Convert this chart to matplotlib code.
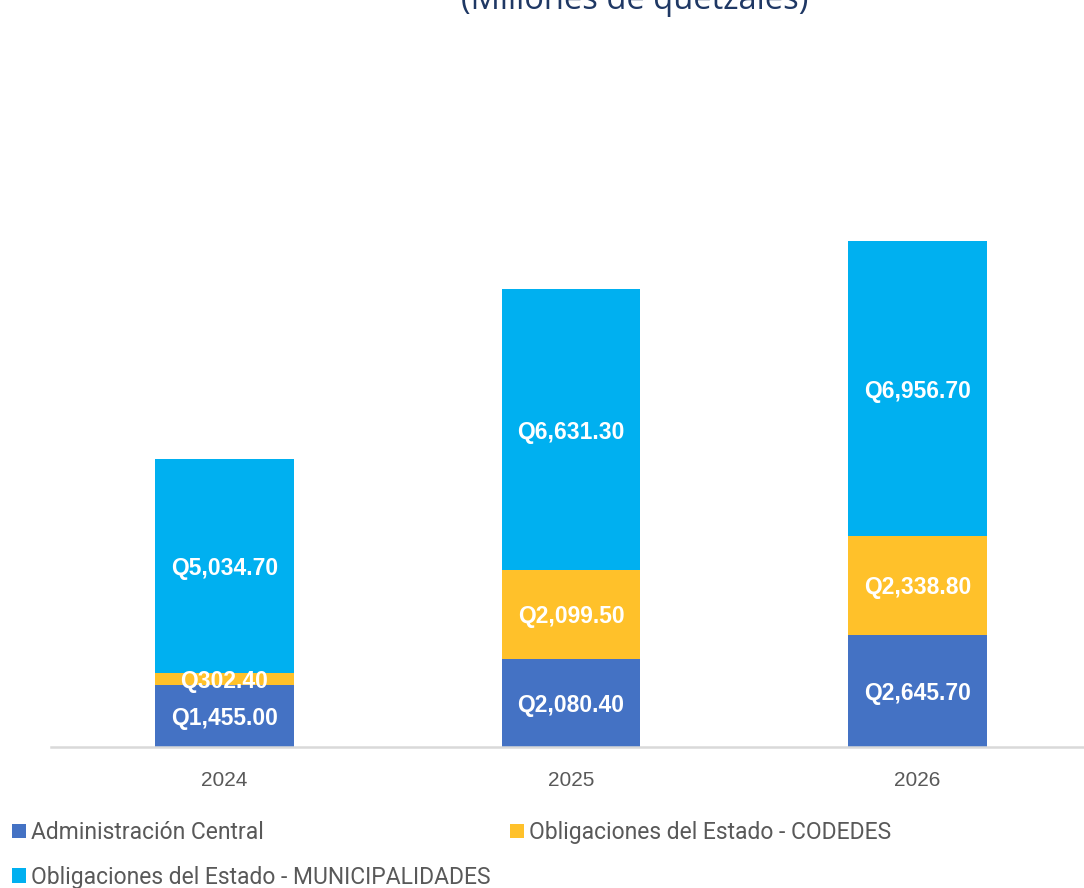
import matplotlib.pyplot as plt
from matplotlib.patches import Patch

# datos (millones de quetzales)
years = ['2024', '2025', '2026']
admin_central = [1455.00, 2080.40, 2645.70]
codedes = [302.40, 2099.50, 2338.80]
municipalidades = [5034.70, 6631.30, 6956.70]

series_names = ['Administración Central',
                'Obligaciones del Estado - CODEDES',
                'Obligaciones del Estado - MUNICIPALIDADES']
colors = ['#4472C4', '#FFC12A', '#00B0F0']

fig = plt.figure(figsize=(10.84, 8.88), dpi=100)
ax = fig.add_axes([51 / 1084, 141 / 888, 1033 / 1084, 707 / 888])

x = range(len(years))
bottom = [0, 0, 0]
for vals, col in zip([admin_central, codedes, municipalidades], colors):
    bars = ax.bar(x, vals, width=0.4, bottom=bottom, color=col, zorder=2)
    for b, v in zip(bars, vals):
        ax.text(b.get_x() + b.get_width() / 2, b.get_y() + b.get_height() / 2,
                'Q{:,.2f}'.format(v), ha='center', va='center_baseline',
                color='white', fontsize=16.5, fontweight='bold',
                family='Liberation Sans', zorder=3)
    bottom = [a + c for a, c in zip(bottom, vals)]

ax.set_xlim(-0.5, 2.48)
ax.set_ylim(0, 16700)
ax.set_xticks(list(x))
ax.set_xticklabels(years, fontsize=15, color='#595959', family='Liberation Sans')
ax.tick_params(axis='x', length=0, pad=17)
ax.set_yticks([])
for s in ['top', 'right', 'left']:
    ax.spines[s].set_visible(False)
ax.spines['bottom'].set_color('#D9D9D9')
ax.spines['bottom'].set_linewidth(1.8)

# subtitulo (cortado arriba como en la imagen)
fig.text(635 / 1084, 1 - 9 / 888, '(Millones de quetzales)', ha='center',
         va='baseline', fontsize=23.5, color='#1F3864', family='Open Sans')

# leyenda en dos bloques: izquierda (Admin, MUNICIPALIDADES) y derecha (CODEDES)
handles = [Patch(facecolor=c, edgecolor='none') for c in colors]
leg_kw = dict(loc='upper left', frameon=False, handlelength=0.6,
              handleheight=0.6, handletextpad=0.25, labelspacing=0.95,
              borderaxespad=0, borderpad=0,
              prop={'family': 'Roboto', 'size': 16.5})
leg1 = fig.legend([handles[0], handles[2]], [series_names[0], series_names[2]],
                  bbox_to_anchor=(12 / 1084, 1 - 821 / 888), **leg_kw)
leg2 = fig.legend([handles[1]], [series_names[1]],
                  bbox_to_anchor=(510 / 1084, 1 - 821 / 888), **leg_kw)
for lg in (leg1, leg2):
    for t in lg.get_texts():
        t.set_color('#595959')

fig.savefig('out.png', dpi=100)
